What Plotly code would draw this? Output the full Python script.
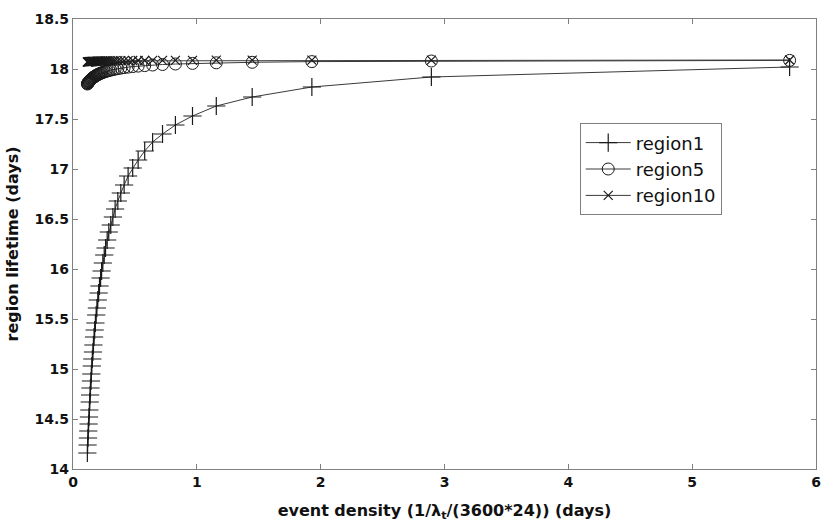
import plotly.graph_objects as go

event_density = [5.787, 2.894, 1.929, 1.447, 1.157, 0.965, 0.827, 0.723, 0.643, 0.579,
                 0.526, 0.482, 0.445, 0.413, 0.386, 0.362, 0.340, 0.322, 0.305, 0.289,
                 0.276, 0.263, 0.252, 0.241, 0.231, 0.223, 0.214, 0.207, 0.200, 0.193,
                 0.187, 0.181, 0.175, 0.170, 0.165, 0.161, 0.156, 0.152, 0.148, 0.145,
                 0.141, 0.138, 0.135, 0.132, 0.129, 0.126, 0.123, 0.121, 0.118, 0.116]

region1 = [18.02, 17.92, 17.82, 17.72, 17.63, 17.53, 17.44, 17.35, 17.27, 17.18,
           17.09, 17.01, 16.93, 16.84, 16.76, 16.68, 16.60, 16.52, 16.44, 16.37,
           16.29, 16.21, 16.14, 16.06, 15.98, 15.91, 15.83, 15.76, 15.69, 15.61,
           15.54, 15.46, 15.39, 15.32, 15.24, 15.17, 15.10, 15.03, 14.95, 14.88,
           14.81, 14.74, 14.67, 14.59, 14.52, 14.45, 14.38, 14.31, 14.24, 14.16]

region5 = [18.086, 18.080, 18.074, 18.067, 18.062, 18.056, 18.050, 18.045, 18.040, 18.034,
           18.029, 18.024, 18.019, 18.014, 18.009, 18.004, 17.999, 17.994, 17.989, 17.985,
           17.980, 17.975, 17.971, 17.966, 17.961, 17.957, 17.952, 17.948, 17.944, 17.939,
           17.934, 17.930, 17.925, 17.921, 17.916, 17.912, 17.908, 17.903, 17.898, 17.894,
           17.890, 17.886, 17.881, 17.877, 17.872, 17.868, 17.864, 17.859, 17.855, 17.850]

region10 = [18.090, 18.089, 18.089, 18.088, 18.088, 18.087, 18.087, 18.086, 18.086, 18.085,
            18.085, 18.085, 18.084, 18.084, 18.083, 18.083, 18.083, 18.082, 18.082, 18.081,
            18.081, 18.081, 18.080, 18.080, 18.079, 18.079, 18.079, 18.078, 18.078, 18.078,
            18.077, 18.077, 18.076, 18.076, 18.076, 18.075, 18.075, 18.075, 18.074, 18.074,
            18.074, 18.073, 18.073, 18.073, 18.072, 18.072, 18.071, 18.071, 18.071, 18.070]

x_ticks = [0, 1, 2, 3, 4, 5, 6]
y_ticks = [14, 14.5, 15, 15.5, 16, 16.5, 17, 17.5, 18, 18.5]
y_tick_labels = ["14", "14.5", "15", "15.5", "16", "16.5", "17", "17.5", "18", "18.5"]

FONT = "DejaVu Sans"
line_col = "#3a3a3a"
mark_col = "#1a1a1a"

fig = go.Figure()
fig.add_trace(go.Scatter(
    x=event_density, y=region1, name="region1", mode="lines+markers",
    line=dict(color=line_col, width=1),
    marker=dict(symbol="cross-thin-open", size=13, color=mark_col,
                line=dict(color=mark_col, width=1.2)),
))
fig.add_trace(go.Scatter(
    x=event_density, y=region5, name="region5", mode="lines+markers",
    line=dict(color=line_col, width=1),
    marker=dict(symbol="circle-open", size=12, color=mark_col,
                line=dict(color=mark_col, width=1)),
))
fig.add_trace(go.Scatter(
    x=event_density, y=region10, name="region10", mode="lines+markers",
    line=dict(color=line_col, width=1),
    marker=dict(symbol="x-thin-open", size=9, color=mark_col,
                line=dict(color=mark_col, width=1.2)),
))

axis_common = dict(
    showgrid=False, zeroline=False, showline=True, mirror="ticks",
    linecolor="#808080", linewidth=1.2,
    ticks="inside", ticklen=5, tickcolor="#808080", tickwidth=1,
    tickfont=dict(family=FONT, size=14, color="#111111", weight="bold"),
)

fig.update_layout(
    width=832, height=527,
    margin=dict(l=73, r=11, t=15, b=57),
    paper_bgcolor="white", plot_bgcolor="white",
    showlegend=True,
    legend=dict(
        x=0.682, y=0.768, xanchor="left", yanchor="top",
        bgcolor="white", bordercolor="#808080", borderwidth=1,
        font=dict(family=FONT, size=18, color="#111111"),
        itemwidth=45, tracegroupgap=0,
    ),
    xaxis=dict(
        range=[0, 6], tickvals=x_ticks, ticktext=[str(v) for v in x_ticks],
        title=dict(text="event density (1/λ<sub>t</sub>/(3600*24)) (days)",
                   font=dict(family=FONT, size=16, color="#111111", weight="bold"),
                   standoff=15),
        **axis_common,
    ),
    yaxis=dict(
        range=[14, 18.5], tickvals=y_ticks, ticktext=y_tick_labels,
        title=dict(text="region lifetime (days)",
                   font=dict(family=FONT, size=16, color="#111111", weight="bold"),
                   standoff=11),
        **axis_common,
    ),
)

fig.write_html("out.html")
